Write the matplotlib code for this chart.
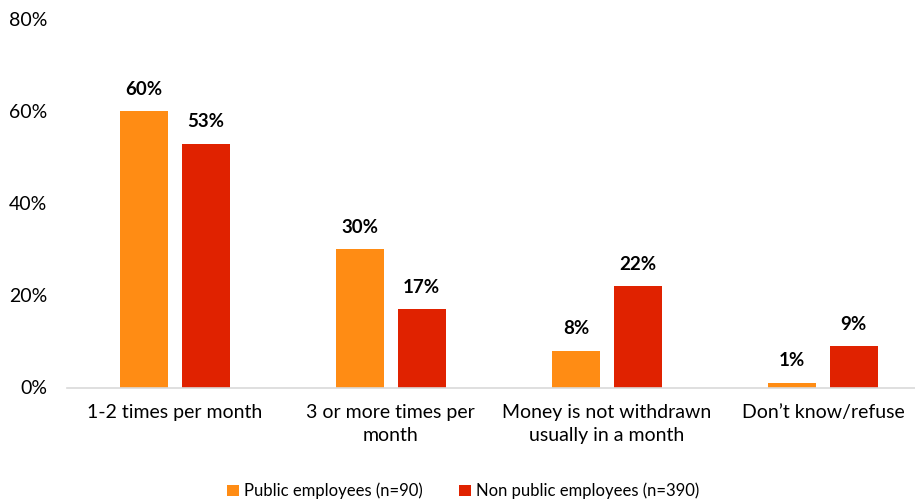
import matplotlib
matplotlib.use("Agg")
import matplotlib.pyplot as plt
import numpy as np
from matplotlib.patches import Patch

plt.rcParams['font.family'] = ['Lato', 'DejaVu Sans']

categories = ["1-2 times per month", "3 or more times per\nmonth",
              "Money is not withdrawn\nusually in a month", "Don\u2019t know/refuse"]
public_vals = [60, 30, 8, 1]
non_public_vals = [53, 17, 22, 9]
series_names = ["Public employees (n=90)", "Non public employees (n=390)"]
y_ticks = [0, 20, 40, 60, 80]

orange = "#FF8C14"
red = "#E02200"

fig = plt.figure(figsize=(9.15, 5.0), dpi=100)
ax = fig.add_axes([66.7 / 915, 0.225, (931 - 66.7) / 915, 0.736])

x = np.arange(len(categories))
w = 0.222
off = (w + 0.063) / 2
b1 = ax.bar(x - off, public_vals, w, color=orange)
b2 = ax.bar(x + off, non_public_vals, w, color=red)

for bars, vals in ((b1, public_vals), (b2, non_public_vals)):
    for rect, v in zip(bars, vals):
        ax.annotate(f"{v}%", (rect.get_x() + rect.get_width() / 2, v),
                    xytext=(0, 15.8), textcoords="offset points",
                    ha="center", va="center", fontsize=13.5, fontweight="bold",
                    color="black")

ax.set_xlim(-0.5, len(categories) - 0.5)
ax.set_ylim(0, 80)
ax.set_yticks(y_ticks)
ax.set_yticklabels([f"{t}%" for t in y_ticks], fontsize=14)
ax.set_xticks(x)
ax.set_xticklabels(categories, fontsize=14, linespacing=1.45)
ax.tick_params(axis="both", length=0, colors="black")
ax.tick_params(axis="y", pad=14)
ax.tick_params(axis="x", pad=12)

for s in ("top", "right", "left"):
    ax.spines[s].set_visible(False)
ax.spines["bottom"].set_color("#D9D9D9")
ax.spines["bottom"].set_linewidth(1.2)

handles = [Patch(facecolor=orange), Patch(facecolor=red)]
fig.legend(handles, series_names, loc="center", bbox_to_anchor=(463 / 915, 1 - 491 / 500),
           ncol=2, frameon=False, fontsize=12, handlelength=0.7, handleheight=0.7,
           handletextpad=0.3, columnspacing=2.2, borderaxespad=0)

fig.savefig("out.png", dpi=100)
